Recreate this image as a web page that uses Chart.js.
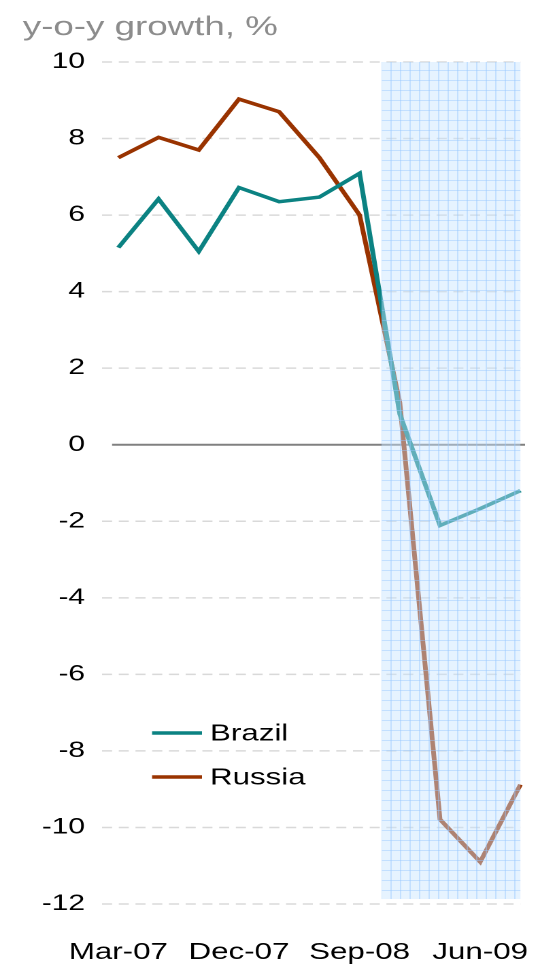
<!DOCTYPE html>
<html><head><meta charset="utf-8">
<script src="https://cdn.jsdelivr.net/npm/chart.js@4/dist/chart.umd.min.js"></script>
<style>
html,body{margin:0;padding:0;background:#fff;overflow:hidden;width:540px;height:967px}
#wrap{position:absolute;left:0;top:0;width:397px;height:967px;transform:scaleX(1.3602);transform-origin:0 0}
</style>
</head><body><div id="wrap"><canvas id="c"></canvas></div>
<script>
// ---- data ----
const categories = ['Mar-07','Jun-07','Sep-07','Dec-07','Mar-08','Jun-08','Sep-08','Dec-08','Mar-09','Jun-09','Sep-09'];
const tickLabels = ['Mar-07','Dec-07','Sep-08','Jun-09'];
const brazil = [5.15, 6.42, 5.05, 6.72, 6.35, 6.47, 7.09, 0.8, -2.11, -1.67, -1.2];
const russia = [7.5, 8.03, 7.7, 9.03, 8.7, 7.5, 6.0, 1.1, -9.79, -10.9, -8.88];
const yMin = -12, yMax = 10, yStep = 2;
const shadeFrom = 6.55, shadeTo = 10, shadeTop = 10, shadeBottom = -11.87;
const titleText = 'y-o-y growth, %';
const seriesNames = ['Brazil', 'Russia'];
const seriesColors = ['#0b8282', '#993300'];

const FONT = '"Liberation Sans", Arial, sans-serif';

function makePattern(ctx) {
  const t = document.createElement('canvas');
  t.width = 14; t.height = 20;
  const c = t.getContext('2d');
  c.fillStyle = 'rgba(200,228,255,0.45)';
  c.fillRect(0, 0, 14, 20);
  c.fillStyle = 'rgba(150,200,255,0.45)';
  c.fillRect(0, 0, 14, 2);
  c.fillRect(0, 0, 2, 20);
  const p = ctx.createPattern(t, 'repeat');
  p.setTransform(new DOMMatrix([0.5, 0, 0, 0.5, 0, 0]));
  return p;
}

const decor = {
  id: 'decor',
  beforeDatasetsDraw(chart) {
    const {ctx, scales: {x, y}} = chart;
    ctx.save();
    for (let v = yMin; v <= yMax; v += yStep) {
      if (v === 0) continue;
      const py = y.getPixelForValue(v);
      ctx.strokeStyle = '#d9d9d9';
      ctx.lineWidth = 1.5;
      ctx.setLineDash([7.4, 4.9]);
      ctx.beginPath();
      ctx.moveTo(x.left - 12, py);
      ctx.lineTo(x.right, py);
      ctx.stroke();
    }
    ctx.setLineDash([]);
    const z = y.getPixelForValue(0);
    ctx.strokeStyle = '#808080';
    ctx.lineWidth = 2;
    ctx.beginPath();
    ctx.moveTo(x.left - 4.6, z);
    ctx.lineTo(x.right + 3.4, z);
    ctx.stroke();
    ctx.restore();
  },
  afterDatasetsDraw(chart) {
    const {ctx, scales: {x, y}} = chart;
    const x0 = x.getPixelForValue(shadeFrom), x1 = x.getPixelForValue(shadeTo);
    const y0 = y.getPixelForValue(shadeTop), y1 = y.getPixelForValue(shadeBottom);
    ctx.save();
    ctx.fillStyle = makePattern(ctx);
    ctx.fillRect(x0, y0, x1 - x0, y1 - y0);
    ctx.restore();
  },
  afterDraw(chart) {
    const {ctx} = chart;
    ctx.save();
    ctx.fillStyle = '#8c8c8c';
    ctx.font = '27px ' + FONT;
    ctx.textBaseline = 'alphabetic';
    ctx.textAlign = 'left';
    ctx.fillText(titleText, 16.7, 35);
    const ly = [733, 777];
    ctx.font = '23px ' + FONT;
    ctx.textBaseline = 'middle';
    seriesNames.forEach((n, i) => {
      ctx.strokeStyle = seriesColors[i];
      ctx.lineWidth = 3.5;
      ctx.beginPath();
      ctx.moveTo(111.8, ly[i]);
      ctx.lineTo(148.5, ly[i]);
      ctx.stroke();
      ctx.fillStyle = '#000';
      ctx.fillText(n, 154.4, ly[i] + 1);
    });
    ctx.restore();
  }
};

new Chart(document.getElementById('c'), {
  type: 'line',
  data: {
    labels: categories,
    datasets: [
      {label: seriesNames[0], data: brazil, borderColor: seriesColors[0], borderWidth: 3.5, pointRadius: 0, tension: 0, fill: false},
      {label: seriesNames[1], data: russia, borderColor: seriesColors[1], borderWidth: 3.5, pointRadius: 0, tension: 0, fill: false}
    ]
  },
  options: {
    responsive: true,
    maintainAspectRatio: false,
    animation: false,
    devicePixelRatio: 2,
    layout: {padding: {top: 62, right: 14.4, left: 0, bottom: 0}},
    plugins: {legend: {display: false}, title: {display: false}, tooltip: {enabled: false}},
    scales: {
      x: {
        offset: false,
        grid: {display: false, drawTicks: false},
        border: {display: false},
        ticks: {
          autoSkip: false, maxRotation: 0, minRotation: 0, padding: 35,
          color: '#000', font: {family: FONT, size: 23},
          callback: (v, i) => tickLabels.includes(categories[i]) ? categories[i] : ''
        },
        afterFit: s => { s.height = 63; s.paddingLeft = 0; s.paddingRight = 0; }
      },
      y: {
        min: yMin, max: yMax,
        grid: {display: false, drawTicks: false},
        border: {display: false},
        ticks: {stepSize: yStep, padding: 24.5, color: '#000', font: {family: FONT, size: 22}},
        afterFit: s => { s.width = 87; s.paddingTop = 0; s.paddingBottom = 0; }
      }
    }
  },
  plugins: [decor]
});
</script>
</body></html>
